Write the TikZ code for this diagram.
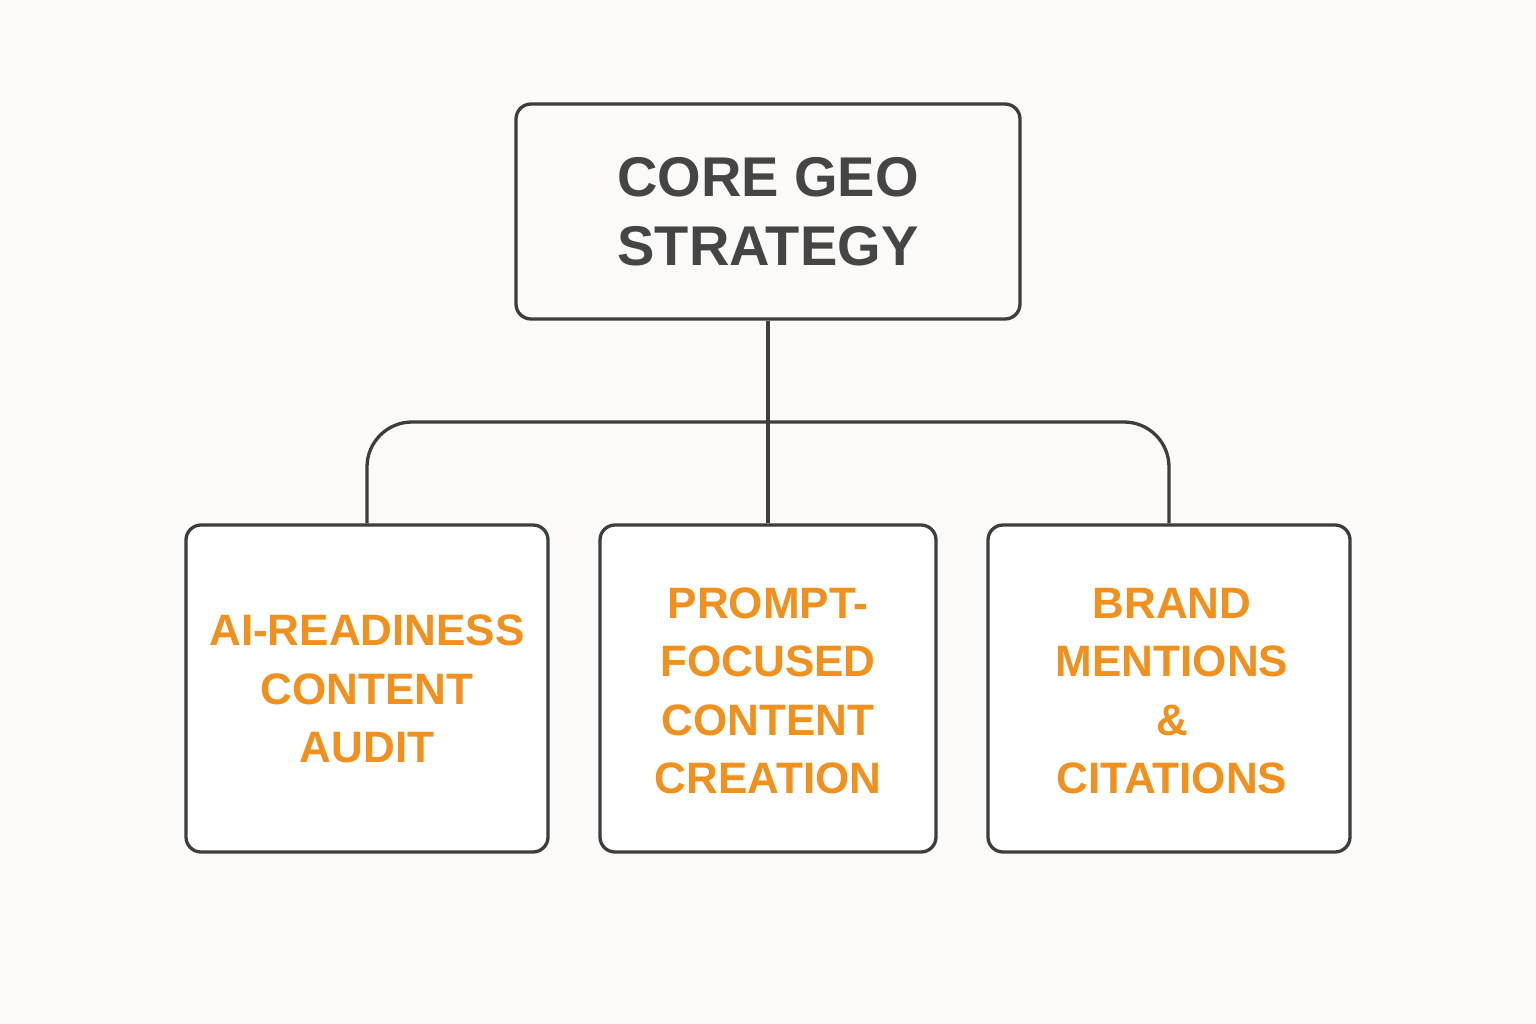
\documentclass[tikz,border=0pt]{standalone}
\usepackage{fontspec}
\setmainfont{Liberation Sans}
\definecolor{bg}{HTML}{FBFAF8}
\definecolor{edge}{HTML}{3D3D3D}
\definecolor{darktext}{HTML}{454545}
\definecolor{orangetext}{HTML}{F0901E}
\begin{document}
\begin{tikzpicture}[x=1pt,y=-1pt,
  box/.style={draw=edge, line width=3.3pt, rounded corners=15pt, fill=white, inner sep=0pt},
  conn/.style={draw=edge, line width=3.3pt},
  toptext/.style={text=darktext, font=\fontsize{56}{69}\selectfont\bfseries, align=center},
  subtext/.style={text=orangetext, font=\fontsize{44}{58.5}\selectfont\bfseries, align=center}]
\fill[bg] (0,0) rectangle (1536,1024);
\useasboundingbox (0,0) rectangle (1536,1024);
% boxes
\node[box, fill=bg, minimum width=504pt, minimum height=215pt] (core) at (768,211.5) {};
\node[box, minimum width=362pt, minimum height=327pt] (b1) at (367,688.5) {};
\node[box, minimum width=336pt, minimum height=327pt] (b2) at (768,688.5) {};
\node[box, minimum width=362pt, minimum height=327pt] (b3) at (1169,688.5) {};
% texts
\node[toptext] (coret) at (768,212) {CORE GEO\\STRATEGY};
\node[subtext] (t1) at (367,689) {AI-READINESS\\CONTENT\\AUDIT};
\node[subtext] (t2) at (768,691) {PROMPT-\\FOCUSED\\CONTENT\\CREATION};
\node[subtext] (t3) at (1172,691) {BRAND\\MENTIONS\\\&\\CITATIONS};
% connectors
\coordinate (split) at (768,422);
\draw[conn] (core.south) -- (b2.north);
\draw[conn, rounded corners=45pt] (b1.north) |- (split) -| (b3.north);
\end{tikzpicture}
\end{document}
